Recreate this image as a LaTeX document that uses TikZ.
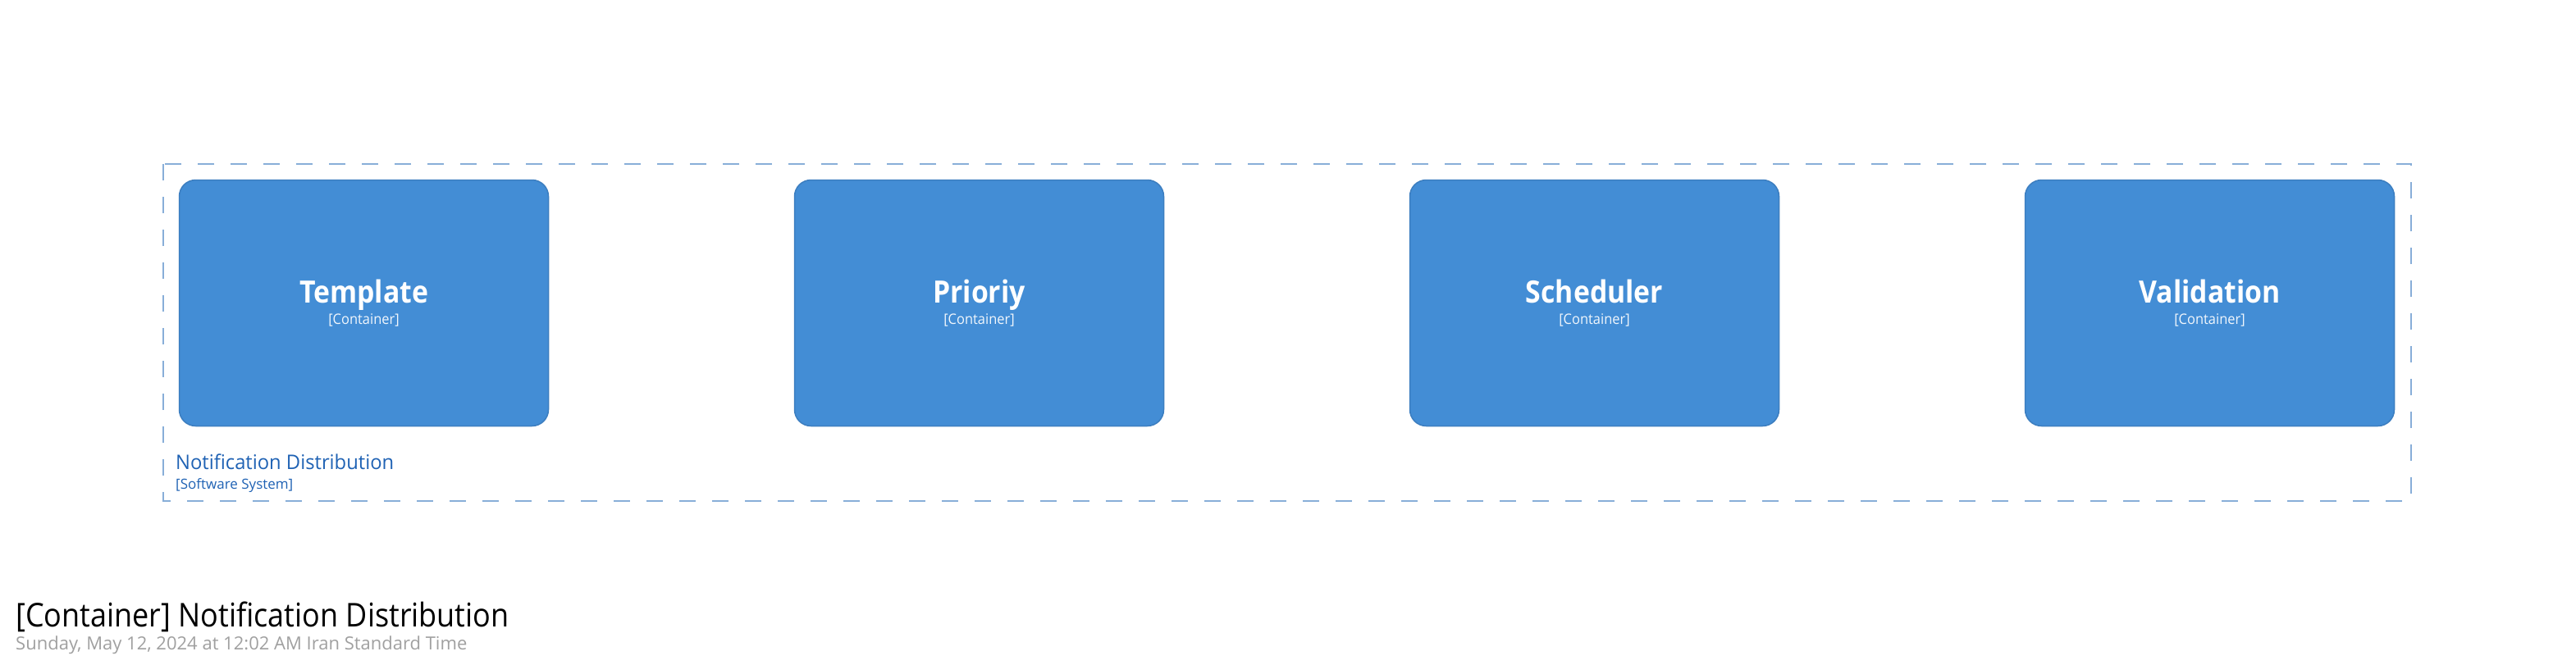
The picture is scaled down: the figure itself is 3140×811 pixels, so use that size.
\documentclass[tikz,border=0pt]{standalone}
\usepackage{fontspec}
\setmainfont{Open Sans}
\usetikzlibrary{calc}
\definecolor{cfill}{HTML}{438DD5}
\definecolor{cdraw}{HTML}{3C7EC0}
\definecolor{bline}{HTML}{88AED8}
\definecolor{btext}{HTML}{1F62B4}
\definecolor{subgray}{HTML}{A0A0A0}
\newcommand{\narrow}[1]{\scalebox{0.9}[1]{#1}}
\tikzset{
  container/.style={draw=cdraw, fill=cfill, line width=1.5pt, rounded corners=20pt,
    minimum width=450pt, minimum height=300pt, inner sep=0pt},
  cname/.style={anchor=base, text=white, font=\fontsize{37.5}{40}\selectfont\bfseries, inner sep=0pt},
  cmeta/.style={anchor=base, text=white!92!cfill, font=\fontsize{17.5}{20}\selectfont, inner sep=0pt},
  boundary/.style={draw=bline, line width=2pt, dash pattern=on 20pt off 20pt},
}
\begin{document}
\begin{tikzpicture}[x=1pt,y=-1pt]
\useasboundingbox (0,0) rectangle (3140,811);
\fill[white] (0,0) rectangle (3140,811);
\draw[boundary] (199,200) rectangle (2939,611);
\node[anchor=base west, text=btext, font=\fontsize{24.5}{28}\selectfont, inner sep=0pt] (bname) at (214,572) {\scalebox{0.97}[1]{Notification Distribution}};
\node[anchor=base west, text=btext, font=\fontsize{17}{20}\selectfont, inner sep=0pt] (bmeta) at (214,596) {[Software System]};
\foreach \n/\lbl/\x in {t/Template/443.5, p/Prioriy/1193.5, s/Scheduler/1943.5, v/Validation/2693.5}{
  \node[container] (\n) at (\x,369.5) {};
  \node[cname] (\n name) at ($(\n.center)+(0,0)$) {\narrow{\lbl}};
  \node[cmeta] (\n meta) at ($(\n.center)+(0,26)$) {\scalebox{0.94}[1]{[Container]}};
}
\node[anchor=base west, font=\fontsize{40}{44}\selectfont, inner sep=0pt] (title) at (19,764) {\narrow{[Container] Notification Distribution}};
\node[anchor=base west, text=subgray, font=\fontsize{22}{26}\selectfont, inner sep=0pt] (date) at (19,792) {Sunday, May 12, 2024 at 12:02 AM Iran Standard Time};
\end{tikzpicture}
\end{document}
